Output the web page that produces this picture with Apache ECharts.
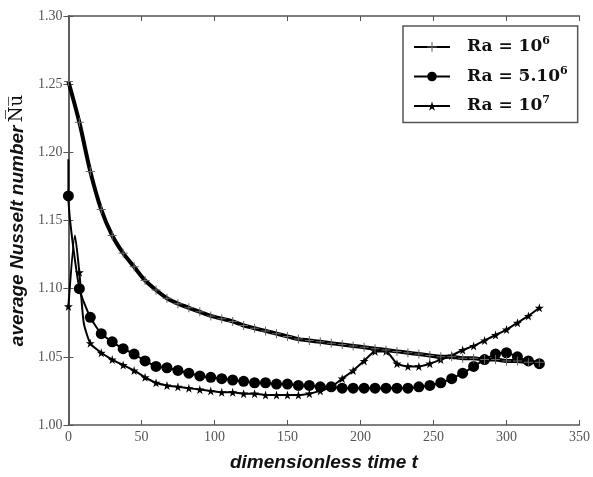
<!DOCTYPE html>
<html>
<head>
<meta charset="utf-8">
<script src="https://cdn.jsdelivr.net/npm/echarts@6/dist/echarts.min.js"></script>
<style>
  html, body { margin: 0; padding: 0; background: #fff; }
  #main { width: 593px; height: 477px; }
</style>
</head>
<body>
<div id="main"></div>
<script>
// 基于准备好的dom，初始化echarts实例
var myChart = echarts.init(document.getElementById('main'));

// time samples (dimensionless time t)
var timeGrid = [0, 7.5, 15, 22.5, 30, 37.5, 45, 52.5, 60, 67.5, 75, 82.5, 90, 97.5, 105,
    112.5, 120, 127.5, 135, 142.5, 150, 157.5, 165, 172.5, 180, 187.5, 195, 202.5, 210,
    217.5, 225, 232.5, 240, 247.5, 255, 262.5, 270, 277.5, 285, 292.5, 300, 307.5, 315, 322.5];

// average Nusselt number, one value per time sample
var nuRa1e6 = [1.252, 1.222, 1.186, 1.158, 1.139, 1.126, 1.116, 1.106, 1.099, 1.093, 1.089,
    1.086, 1.083, 1.080, 1.078, 1.076, 1.073, 1.071, 1.069, 1.067, 1.065, 1.063, 1.062, 1.061,
    1.060, 1.059, 1.058, 1.057, 1.056, 1.055, 1.054, 1.053, 1.052, 1.051, 1.050, 1.050, 1.049,
    1.049, 1.048, 1.048, 1.047, 1.047, 1.046, 1.046];
var nuRa5e6 = [1.168, 1.100, 1.079, 1.067, 1.061, 1.056, 1.052, 1.047, 1.043, 1.042, 1.040,
    1.038, 1.036, 1.035, 1.034, 1.033, 1.032, 1.031, 1.031, 1.030, 1.030, 1.029, 1.029, 1.028,
    1.028, 1.027, 1.027, 1.027, 1.027, 1.027, 1.027, 1.027, 1.028, 1.029, 1.031, 1.034, 1.038,
    1.043, 1.048, 1.052, 1.053, 1.050, 1.047, 1.045];
var nuRa1e7 = [1.087, 1.112, 1.060, 1.053, 1.048, 1.044, 1.040, 1.035, 1.031, 1.029, 1.028,
    1.027, 1.026, 1.025, 1.024, 1.024, 1.023, 1.023, 1.022, 1.022, 1.022, 1.022, 1.023, 1.025,
    1.028, 1.034, 1.040, 1.047, 1.054, 1.054, 1.045, 1.043, 1.043, 1.045, 1.048, 1.051, 1.055,
    1.058, 1.062, 1.066, 1.070, 1.075, 1.080, 1.086];

// extra points of the curves that carry no marker
var extraT5e6 = [0];
var extraNu5e6 = [1.195];
var extraT1e7 = [4.5, 10.5];
var extraNu1e7 = [1.139, 1.075];

var seriesNames = ['Ra = 10^6', 'Ra = 5.10^6', 'Ra = 10^7'];

var plusPath = 'path://M4,0h1v4h4v1h-4v4h-1v-4h-4v-1h4z';
var starPath = 'path://M50,0L61,35L98,35L68,57L79,91L50,70L21,91L32,57L2,35L39,35Z';

function buildData(ts, vals, exT, exV) {
    var pts = [];
    for (var i = 0; i < ts.length; i++) {
        pts.push({ value: [ts[i], vals[i]], order: i * 2 + 1 });
    }
    exT = exT || [];
    for (var j = 0; j < exT.length; j++) {
        pts.push({ value: [exT[j], exV[j]], symbol: 'none', order: 0 });
    }
    pts.sort(function (a, b) {
        return a.value[0] - b.value[0] || a.order - b.order;
    });
    return pts.map(function (p) {
        var d = { value: p.value };
        if (p.symbol) d.symbol = p.symbol;
        return d;
    });
}

var axisColor = '#555';
var labelFont = 'Liberation Serif';

var option = {
    backgroundColor: '#fff',
    animation: false,
    grid: { left: 65, right: 10, top: 16, bottom: 44 },
    legend: {
        orient: 'vertical',
        left: 403,
        top: 26,
        padding: [10, 10, 8, 10],
        itemWidth: 36,
        itemHeight: 12,
        itemGap: 10,
        borderColor: axisColor,
        borderWidth: 1.5,
        backgroundColor: '#fff',
        data: seriesNames,
        formatter: function (name) {
            var parts = name.split('^');
            return '{b|' + parts[0] + '}{s|' + parts[1] + '}';
        },
        textStyle: {
            padding: [0, 0, 0, 12],
            rich: {
                b: { fontFamily: 'DejaVu Serif', fontWeight: 'bold', fontSize: 17, color: '#111', lineHeight: 22 },
                s: { fontFamily: 'DejaVu Serif', fontWeight: 'bold', fontSize: 11, color: '#111', verticalAlign: 'top', lineHeight: 22 }
            }
        }
    },
    xAxis: [{
        type: 'value',
        min: 0,
        max: 350,
        interval: 50,
        name: 'dimensionless time t',
        nameLocation: 'middle',
        nameGap: 28,
        nameTextStyle: { fontFamily: 'Liberation Sans', fontWeight: 'bold', fontStyle: 'italic', fontSize: 19, color: '#111' },
        axisLine: { lineStyle: { color: axisColor, width: 1.5 } },
        axisTick: { inside: true, length: 5, lineStyle: { color: axisColor } },
        axisLabel: { fontFamily: labelFont, fontSize: 14, color: '#555', margin: 5 },
        splitLine: { show: false }
    }, {
        type: 'value',
        position: 'top',
        min: 0,
        max: 350,
        interval: 50,
        axisLine: { lineStyle: { color: axisColor, width: 1.5 } },
        axisTick: { inside: true, length: 5, lineStyle: { color: axisColor } },
        axisLabel: { show: false },
        splitLine: { show: false }
    }],
    yAxis: [{
        type: 'value',
        min: 1.0,
        max: 1.3,
        interval: 0.05,
        name: '{i|average Nusselt number} {n|N\u0305u\u0305}',
        nameLocation: 'middle',
        nameGap: 38,
        nameTextStyle: {
            rich: {
                i: { fontFamily: 'Liberation Sans', fontWeight: 'bold', fontStyle: 'italic', fontSize: 19, color: '#111' },
                n: { fontFamily: 'DejaVu Serif', fontSize: 18, color: '#111' }
            }
        },
        axisLine: { lineStyle: { color: axisColor, width: 1.5 } },
        axisTick: { inside: true, length: 5, lineStyle: { color: axisColor } },
        axisLabel: {
            fontFamily: labelFont, fontSize: 14, color: '#555', margin: 6,
            formatter: function (v) { return v.toFixed(2); }
        },
        splitLine: { show: false }
    }, {
        type: 'value',
        position: 'right',
        min: 1.0,
        max: 1.3,
        interval: 0.05,
        axisLine: { lineStyle: { color: axisColor, width: 1.5 } },
        axisTick: { inside: true, length: 5, lineStyle: { color: axisColor } },
        axisLabel: { show: false },
        splitLine: { show: false }
    }],
    series: [{
        name: seriesNames[0],
        type: 'line',
        smooth: 0.3,
        symbol: plusPath,
        symbolSize: 9,
        itemStyle: { color: '#666' },
        lineStyle: { color: '#000', width: 4 },
        data: buildData(timeGrid, nuRa1e6),
        z: 3
    }, {
        name: seriesNames[1],
        type: 'line',
        smooth: 0.2,
        symbol: 'circle',
        symbolSize: 11,
        itemStyle: { color: '#000' },
        lineStyle: { color: '#000', width: 2 },
        data: buildData(timeGrid, nuRa5e6, extraT5e6, extraNu5e6),
        z: 2
    }, {
        name: seriesNames[2],
        type: 'line',
        smooth: 0.2,
        symbol: starPath,
        symbolSize: 9,
        itemStyle: { color: '#000' },
        lineStyle: { color: '#000', width: 2 },
        data: buildData(timeGrid, nuRa1e7, extraT1e7, extraNu1e7),
        z: 2
    }]
};
// 使用刚指定的配置项和数据显示图表。
myChart.setOption(option);
</script>
</body>
</html>
